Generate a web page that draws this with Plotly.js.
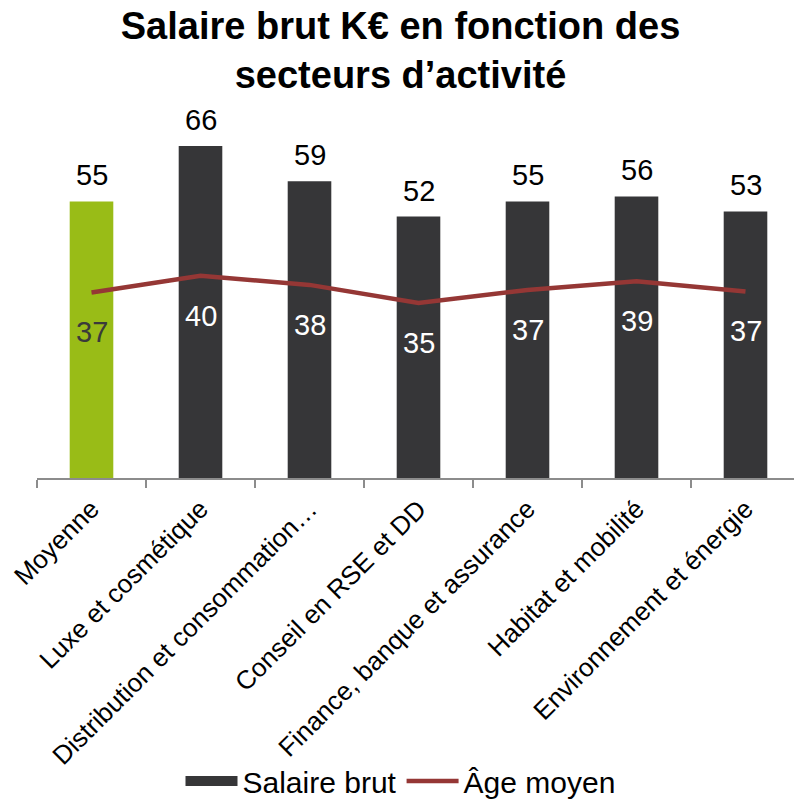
<!DOCTYPE html>
<html>
<head>
<meta charset="utf-8">
<script src="https://cdn.plot.ly/plotly-3.0.1.min.js"></script>
<style>
  html, body { margin: 0; padding: 0; overflow: hidden; background: #fff; }
  #chart { width: 801px; height: 807px; }
</style>
</head>
<body>
<div id="chart"></div>
<script>
const categories = [
  "Moyenne",
  "Luxe et cosmétique",
  "Distribution et consommation…",
  "Conseil en RSE et DD",
  "Finance, banque et assurance",
  "Habitat et mobilité",
  "Environnement et énergie"
];
const salaireBrut = [55, 66, 59, 52, 55, 56, 53];
const ageMoyen = [36.9, 40.2, 38.4, 34.8, 37.4, 39.1, 37.1];
const barColors = ["#99BC17", "#363638", "#363638", "#363638", "#363638", "#363638", "#363638"];
const ageLabelColors = ["#3a3a3a", "#ffffff", "#ffffff", "#ffffff", "#ffffff", "#ffffff", "#ffffff"];

const FONT = "Liberation Sans, Arial, sans-serif";

const traces = [
  {
    type: "bar",
    name: "Salaire brut",
    x: categories,
    y: salaireBrut,
    marker: { color: barColors },
    showlegend: false
  },
  {
    // legend entry for the bars (dark swatch)
    type: "scatter",
    mode: "lines",
    name: "Salaire brut",
    x: [categories[0]],
    y: [null],
    line: { color: "#363638", width: 16 },
    showlegend: true
  },
  {
    type: "scatter",
    mode: "lines",
    name: "Âge moyen",
    x: categories,
    y: ageMoyen,
    line: { color: "#953735", width: 4.5 }
  }
];

const annotations = [];
categories.forEach((c, i) => {
  annotations.push({
    x: c, y: salaireBrut[i], xref: "x", yref: "y",
    text: String(salaireBrut[i]),
    showarrow: false, yanchor: "bottom", yshift: 8,
    font: { family: FONT, size: 29, color: "#000" }
  });
  annotations.push({
    x: c, y: ageMoyen[i], xref: "x", yref: "y",
    text: ageMoyen[i].toFixed(0),
    showarrow: false, yanchor: "top", yshift: -22,
    font: { family: FONT, size: 29, color: ageLabelColors[i] }
  });
});

const layout = {
  width: 801,
  height: 807,
  margin: { l: 37, r: 1, t: 126, b: 329 },
  paper_bgcolor: "#fff",
  plot_bgcolor: "#fff",
  font: { family: FONT, color: "#000" },
  title: {
    text: "<b>Salaire brut K€ en fonction des<br>secteurs d’activité</b>",
    font: { family: FONT, size: 38, color: "#000" },
    x: 0.5, xref: "container", xanchor: "center",
    y: 0.952, yref: "container", yanchor: "top"
  },
  bargap: 0.6,
  showlegend: true,
  legend: {
    orientation: "h",
    x: 0.5, xref: "container", xanchor: "center",
    y: -0.02, yref: "container", yanchor: "bottom",
    bgcolor: "rgba(0,0,0,0)",
    font: { family: FONT, size: 30, color: "#000" },
    itemwidth: 52,
    traceorder: "normal"
  },
  xaxis: {
    type: "category",
    tickangle: -45,
    tickfont: { family: FONT, size: 26, color: "#000" },
    ticklabelstandoff: 4,
    showline: true,
    linecolor: "#8c8c8c",
    linewidth: 1.5,
    ticks: "outside",
    tickson: "boundaries",
    ticklen: 8,
    tickcolor: "#8c8c8c",
    tickwidth: 1.5,
    showgrid: false,
    zeroline: false,
    fixedrange: true
  },
  yaxis: {
    range: [0, 70],
    visible: false,
    showgrid: false,
    zeroline: false,
    fixedrange: true
  },
  annotations: annotations
};

Plotly.newPlot("chart", traces, layout, { displayModeBar: false, staticPlot: true });
</script>
</body>
</html>
